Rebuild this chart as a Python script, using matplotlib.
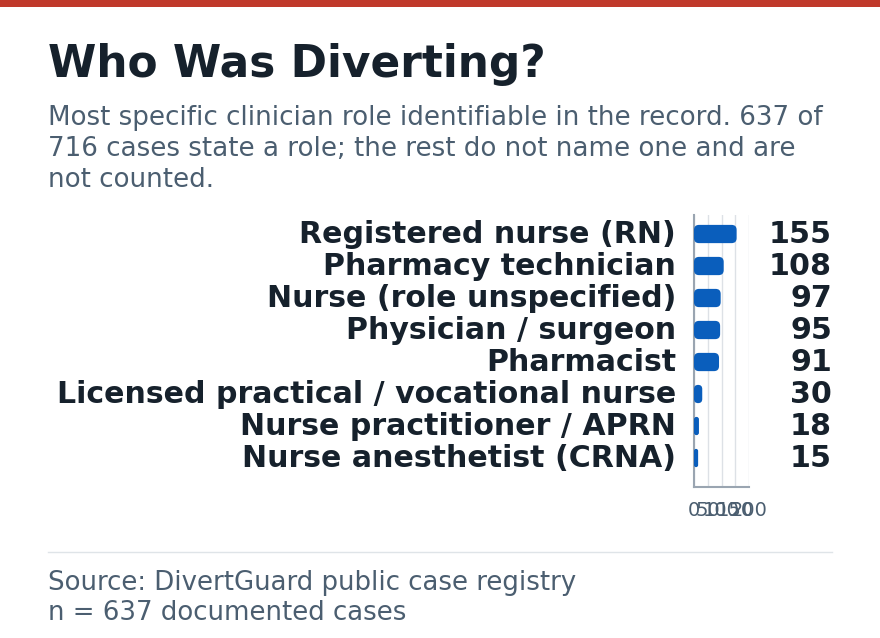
import matplotlib
matplotlib.use("Agg")
import matplotlib.pyplot as plt
from matplotlib.patches import FancyBboxPatch, Rectangle
from matplotlib.lines import Line2D
import matplotlib.transforms as mtransforms

plt.rcParams["font.family"] = ["DejaVu Sans"]

categories = ["Registered nurse (RN)", "Pharmacy technician", "Nurse (role unspecified)",
              "Physician / surgeon", "Pharmacist", "Licensed practical / vocational nurse",
              "Nurse practitioner / APRN", "Nurse anesthetist (CRNA)"]
values = [155, 108, 97, 95, 91, 30, 18, 15]
xticks = [0, 50, 100, 150, 200]

title = "Who Was Diverting?"
subtitle_lines = ["Most specific clinician role identifiable in the record. 637 of",
                  "716 cases state a role; the rest do not name one and are",
                  "not counted."]
footer_lines = ["Source: DivertGuard public case registry", "n = 637 documented cases"]

W, H = 880, 638
DARK = "#16212c"
SLATE = "#4b5e70"
BLUE = "#0a5ebc"

fig = plt.figure(figsize=(W / 100, H / 100), dpi=100)
fig.patch.set_facecolor("white")

def fx(px):
    return px / W

def fy(py):
    return 1 - py / H

# top red band
fig.patches.append(Rectangle((0, fy(7)), 1, 7 / H, transform=fig.transFigure,
                             facecolor="#c0392b", edgecolor="none"))

fig.text(fx(48), fy(77), title, fontsize=31.6, fontweight="bold", color=DARK, va="baseline")
for i, line in enumerate(subtitle_lines):
    fig.text(fx(48), fy(125 + 31 * i), line, fontsize=18.8, color=SLATE, va="baseline")

ax = fig.add_axes([fx(694), fy(487), (749 - 694) / W, (487 - 215) / H])
ax.set_xlim(0, 200)
n = len(categories)
ax.set_ylim(n - 1 + 0.906, -0.594)

bar_h = 0.57
x_per_px = 200 / 55
y_per_px = (n - 1 + 0.906 + 0.594) / 272
aspect = y_per_px / x_per_px
for i, v in enumerate(values):
    r = min(5 * x_per_px, v / 2)
    p = FancyBboxPatch((0, i - bar_h / 2), v, bar_h,
                       boxstyle=f"round,pad=0,rounding_size={r}",
                       mutation_aspect=aspect, facecolor=BLUE, edgecolor="none", zorder=3)
    ax.add_patch(p)

ax.set_yticks(range(n))
ax.set_yticklabels(categories, fontsize=21.6, fontweight="bold", color=DARK)
ax.tick_params(axis="y", length=0, pad=13)
for lbl in ax.get_yticklabels():
    lbl.set_verticalalignment("center")
ax.set_xticks(xticks)
ax.set_xticklabels([str(t) for t in xticks], fontsize=14, color=SLATE)
ax.tick_params(axis="x", length=0, pad=10)
ax.grid(axis="x", color="#dde1e6", linewidth=1, zorder=0)
ax.set_axisbelow(True)
for s in ["top", "right"]:
    ax.spines[s].set_visible(False)
for s in ["left", "bottom"]:
    ax.spines[s].set_color("#9aa5b1")
    ax.spines[s].set_linewidth(1.5)

trans = mtransforms.blended_transform_factory(fig.transFigure, ax.transData)
for i, v in enumerate(values):
    ax.text(fx(832), i, str(v), transform=trans, ha="right", va="center",
            fontsize=21.7, fontweight="bold", color=DARK, clip_on=False)

fig.lines.append(Line2D([fx(48), fx(832)], [fy(552), fy(552)], transform=fig.transFigure,
                        color="#dfe4e8", linewidth=1))
for i, line in enumerate(footer_lines):
    fig.text(fx(48), fy(590 + 30 * i), line, fontsize=18.7, color=SLATE, va="baseline")

fig.savefig("out.png", dpi=100, facecolor="white")
